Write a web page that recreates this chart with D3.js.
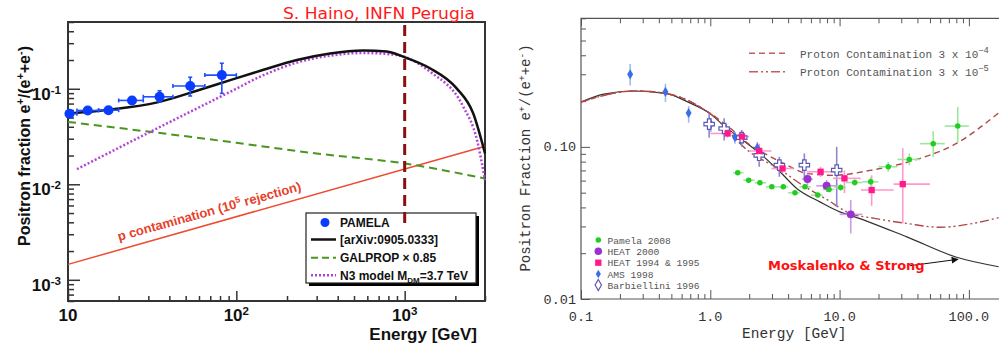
<!DOCTYPE html>
<html>
<head>
<meta charset="utf-8">
<script src="https://cdn.jsdelivr.net/npm/d3@7"></script>
<style>
  body { margin: 0; background: #fff; }
  svg { display: block; }
</style>
</head>
<body>
<svg width="999" height="350"></svg>
<script>
// ===== Left panel data =====
const pamelaE   = [10.2, 13.1, 17.4, 24.0, 35.0, 53.2, 82.0];
const pamelaF   = [0.0547, 0.0593, 0.0597, 0.0755, 0.0824, 0.107, 0.139];
const pamelaElo = [10, 11.3, 15.2, 20, 28, 42, 65];
const pamelaEhi = [11.3, 15.2, 20, 28, 42, 65, 100];
const pamelaFlo = [0.0525, 0.057, 0.057, 0.071, 0.073, 0.084, 0.0895];
const pamelaFhi = [0.058, 0.0625, 0.063, 0.080, 0.0953, 0.132, 0.185];

const modelE = [10, 17, 34, 60, 92, 145, 229, 360, 568, 782, 1004, 1413, 2035, 2555, 3000];
const modelF = [0.055, 0.06, 0.072, 0.097, 0.123, 0.158, 0.200, 0.234, 0.251, 0.245, 0.213, 0.164, 0.101, 0.055, 0.021];

const galpropE = [10, 30, 100, 300, 1000, 3000];
const galpropF = [0.045, 0.0356, 0.0272, 0.021, 0.0165, 0.0115];

const n3E = [11.3, 30.8, 92, 145, 229, 360, 568, 890, 1413, 2230, 2690, 3000];
const n3F = [0.0144, 0.0354, 0.093, 0.139, 0.188, 0.222, 0.237, 0.226, 0.151, 0.0647, 0.029, 0.011];

const pContE = [10, 3000];
const pContF = [0.00145, 0.025];

const cutoffE = 1000;

// ===== Right panel data =====
const msE = [0.1, 0.15, 0.26, 0.46, 0.68, 1.0, 1.26, 1.75, 2.42, 3.46, 4.66, 7.04, 10.05, 12, 33.1, 80.5, 170];
const msF = [0.197, 0.222, 0.233, 0.224, 0.196, 0.165, 0.139, 0.112, 0.0905, 0.0686, 0.0533, 0.0435, 0.0374, 0.0356, 0.0256, 0.0188, 0.0163];

const prot4E = [0.1, 0.26, 0.46, 1.0, 1.5, 2.03, 2.8, 3.67, 5.57, 8.9, 17.2, 41.9, 75.7, 171];
const prot4F = [0.197, 0.233, 0.224, 0.166, 0.128, 0.103, 0.088, 0.078, 0.067, 0.065, 0.070, 0.084, 0.1026, 0.168];

const prot5E = [0.1, 0.26, 0.46, 1.0, 2.0, 3.5, 5.0, 8.0, 12, 18.2, 33, 59.7, 108, 171];
const prot5F = [0.197, 0.233, 0.224, 0.165, 0.093, 0.0705, 0.057, 0.045, 0.0366, 0.034, 0.0314, 0.0296, 0.0314, 0.0343];

const pam08E   = [1.63, 1.98, 2.42, 2.99, 3.67, 4.52, 5.4, 6.78, 8.29, 10.2, 13.1, 17.4, 23.8, 34.6, 53, 82];
const pam08F   = [0.0675, 0.0604, 0.058, 0.0546, 0.0546, 0.0499, 0.0546, 0.0482, 0.0525, 0.0541, 0.0583, 0.0589, 0.074, 0.0827, 0.105, 0.137];
const pam08Elo = [1.5, 1.8, 2.2, 2.7, 3.3, 4.0, 4.9, 6.0, 7.4, 9.1, 11.2, 15, 20, 28, 42, 65];
const pam08Ehi = [1.8, 2.2, 2.7, 3.3, 4.0, 4.9, 6.0, 7.4, 9.1, 11.2, 15, 20, 28, 42, 65, 100];
const pam08Flo = [0.066, 0.059, 0.0567, 0.0533, 0.0532, 0.0485, 0.053, 0.0466, 0.0505, 0.0515, 0.0555, 0.0545, 0.0686, 0.0759, 0.086, 0.106];
const pam08Fhi = [0.069, 0.0618, 0.0593, 0.0559, 0.056, 0.0513, 0.0562, 0.0498, 0.0545, 0.0567, 0.0611, 0.0635, 0.0797, 0.0905, 0.127, 0.183];

const heat00E   = [5.65, 7.94, 12.2];
const heat00F   = [0.0614, 0.0555, 0.036];
const heat00Elo = [5.1, 6.6, 10.0];
const heat00Ehi = [6.2, 9.5, 15.0];
const heat00Flo = [0.056, 0.0506, 0.027];
const heat00Fhi = [0.067, 0.0605, 0.0447];

const heat95E   = [1.36, 1.76, 2.39, 3.62, 7.13, 10.9, 17.7, 30.8];
const heat95F   = [0.1225, 0.117, 0.094, 0.0721, 0.0686, 0.0621, 0.052, 0.0569];
const heat95Elo = [1.0, 1.5, 2.0, 2.97, 5.6, 8.9, 14.6, 26.2];
const heat95Ehi = [1.5, 2.0, 2.97, 4.4, 8.9, 14.6, 26.2, 50];
const heat95Flo = [0.115, 0.109, 0.0797, 0.067, 0.0635, 0.0497, 0.041, 0.0314];
const heat95Fhi = [0.130, 0.125, 0.105, 0.077, 0.074, 0.070, 0.065, 0.098];

const amsE   = [0.24, 0.45, 0.68, 1.01, 1.55, 2.31];
const amsF   = [0.30, 0.23, 0.167, 0.141, 0.116, 0.0985];
const amsFlo = [0.253, 0.197, 0.144, 0.125, 0.105, 0.088];
const amsFhi = [0.35, 0.26, 0.185, 0.155, 0.125, 0.108];

const barbE   = [0.98, 1.28, 1.75, 2.39, 3.42, 5.34, 9.5];
const barbF   = [0.141, 0.132, 0.115, 0.088, 0.0759, 0.0759, 0.0703];
const barbFlo = [0.115, 0.110, 0.100, 0.074, 0.0636, 0.0604, 0.0404];
const barbFhi = [0.166, 0.154, 0.129, 0.100, 0.086, 0.0906, 0.100];

// tick labels
const leftXMajor = [10, 100, 1000];
const leftXLabels = [["10"], ["10", "2"], ["10", "3"]];
const leftYMajor = [0.1, 0.01, 0.001];
const leftYLabels = [["10", "-1"], ["10", "-2"], ["10", "-3"]];
const rightXMajor = [0.1, 1, 10, 100];
const rightXLabels = ["0.1", "1.0", "10.0", "100.0"];
const rightYMajor = [0.01, 0.1];
const rightYLabels = ["0.01", "0.10"];

const rightLegend = ["Pamela 2008", "HEAT 2000", "HEAT 1994 & 1995", "AMS 1998", "Barbiellini 1996"];

const svg = d3.select("svg");

// helper: text with super/subscript parts [text, shift]
function rich(g, x, y, parts, attrs) {
  const t = g.append("text").attr("x", x).attr("y", y);
  Object.entries(attrs).forEach(([k, v]) => t.attr(k, v));
  parts.forEach(p => {
    const s = t.append("tspan").text(p[0]);
    if (p[1]) s.attr("baseline-shift", p[1]).attr("font-size", p[2] || "68%");
  });
  return t;
}

function errBars(g, sx, sy, E, F, Elo, Ehi, Flo, Fhi, color, w, cap) {
  E.forEach((e, i) => {
    if (Elo) {
      g.append("line").attr("x1", sx(Elo[i])).attr("x2", sx(Ehi[i]))
        .attr("y1", sy(F[i])).attr("y2", sy(F[i]))
        .attr("stroke", color).attr("stroke-width", w);
      if (cap) [Elo[i], Ehi[i]].forEach(v => g.append("line")
        .attr("x1", sx(v)).attr("x2", sx(v)).attr("y1", sy(F[i]) - cap).attr("y2", sy(F[i]) + cap)
        .attr("stroke", color).attr("stroke-width", w));
    }
    g.append("line").attr("x1", sx(e)).attr("x2", sx(e))
      .attr("y1", sy(Flo[i])).attr("y2", sy(Fhi[i]))
      .attr("stroke", color).attr("stroke-width", w);
    if (cap) [Flo[i], Fhi[i]].forEach(v => g.append("line")
      .attr("x1", sx(e) - cap).attr("x2", sx(e) + cap).attr("y1", sy(v)).attr("y2", sy(v))
      .attr("stroke", color).attr("stroke-width", w));
  });
}

function curve(sx, sy, E, F) {
  return d3.line().x((d, i) => sx(E[i])).y((d, i) => sy(F[i])).curve(d3.curveMonotoneX)(E);
}

function ticks(g, axisFn, scale, values, size, color, w) {
  g.call(axisFn(scale).tickValues(values).tickSize(size).tickSizeOuter(0).tickFormat(""));
  g.select(".domain").remove();
  g.selectAll("line").attr("stroke", color).attr("stroke-width", w);
}

// ================= LEFT PANEL =================
const xL = d3.scaleLog().domain([10, 3000]).range([68, 485]);
const yL = d3.scaleLog().domain([6e-4, 0.5]).range([301, 22]);
const L = svg.append("g");
const boldFont = "Liberation Sans, Arial, Helvetica, sans-serif";

// ticks
const minX = xL.ticks().filter(v => !leftXMajor.includes(v));
ticks(L.append("g").attr("transform", "translate(0,301)"), d3.axisBottom, xL, minX, -5, "#333", 1.5);
ticks(L.append("g").attr("transform", "translate(0,301)"), d3.axisBottom, xL, leftXMajor, -10, "#333", 1.5);
const minY = yL.ticks().filter(v => !leftYMajor.some(m => Math.abs(m - v) < 1e-9));
ticks(L.append("g").attr("transform", "translate(68,0)"), d3.axisLeft, yL, minY, -6, "#333", 1.5);
ticks(L.append("g").attr("transform", "translate(68,0)"), d3.axisLeft, yL, leftYMajor, -12, "#333", 1.5);

L.append("rect").attr("x", 68).attr("y", 22).attr("width", 417).attr("height", 279)
  .attr("fill", "none").attr("stroke", "#333").attr("stroke-width", 2);

// tick labels
leftXMajor.forEach((v, i) => {
  const lab = leftXLabels[i];
  rich(L, xL(v), 321, lab[1] ? [[lab[0]], [lab[1], "super"]] : [[lab[0]]],
    {"text-anchor": "middle", "font-family": boldFont, "font-weight": "bold", "font-size": 17, fill: "#111"});
});
leftYMajor.forEach((v, i) => {
  const lab = leftYLabels[i];
  rich(L, 61, yL(v) + 11, [[lab[0]], [lab[1], "super"]],
    {"text-anchor": "end", "font-family": boldFont, "font-weight": "bold", "font-size": 17, fill: "#111"});
});

// axis titles
rich(L, 0, 0, [["Positron fraction e"], ["+", "super"], ["/(e"], ["+", "super"], ["+e"], ["-", "super"], [")"]],
  {"text-anchor": "middle", "font-family": boldFont, "font-weight": "bold", "font-size": 16, fill: "#111",
   transform: "translate(30,146) rotate(-90)"});
L.append("text").attr("x", 477).attr("y", 340).attr("text-anchor", "end")
  .attr("font-family", boldFont).attr("font-weight", "bold").attr("font-size", 17).attr("fill", "#111")
  .text("Energy [GeV]");

// curves
L.append("path").attr("d", curve(xL, yL, pContE, pContF)).attr("fill", "none")
  .attr("stroke", "#f04a30").attr("stroke-width", 1.5);
L.append("path").attr("d", curve(xL, yL, galpropE, galpropF)).attr("fill", "none")
  .attr("stroke", "#4a9522").attr("stroke-width", 2).attr("stroke-dasharray", "8,5");
L.append("path").attr("d", curve(xL, yL, n3E, n3F)).attr("fill", "none")
  .attr("stroke", "#b444d8").attr("stroke-width", 2.5).attr("stroke-dasharray", "2,2");
L.append("path").attr("d", curve(xL, yL, modelE, modelF)).attr("fill", "none")
  .attr("stroke", "#111").attr("stroke-width", 2.5);

// PAMELA points
errBars(L, xL, yL, pamelaE, pamelaF, pamelaElo, pamelaEhi, pamelaFlo, pamelaFhi, "#1f50ff", 1.6, 2);
L.selectAll(".pam").data(pamelaE).enter().append("circle")
  .attr("cx", d => xL(d)).attr("cy", (d, i) => yL(pamelaF[i])).attr("r", 5).attr("fill", "#0a3cff");

// red label along p contamination line
rich(L, 0, 0, [["p contamination (10"], ["5", "super"], [" rejection)"]],
  {"font-family": boldFont, "font-weight": "bold", "font-size": 13, fill: "#e8402a",
   transform: "translate(119,241) rotate(-15.5)"});

// legend
L.append("rect").attr("x", 309).attr("y", 216).attr("width", 170).attr("height", 70).attr("fill", "#000");
L.append("rect").attr("x", 306).attr("y", 213).attr("width", 170).attr("height", 70)
  .attr("fill", "#fff").attr("stroke", "#222").attr("stroke-width", 1.2);
const legTxt = {"font-family": boldFont, "font-weight": "bold", "font-size": 12, fill: "#111"};
L.append("circle").attr("cx", 325).attr("cy", 222.5).attr("r", 4.5).attr("fill", "#0a3cff");
rich(L, 340, 227, [["PAMELA"]], legTxt);
L.append("line").attr("x1", 311).attr("x2", 336).attr("y1", 239.5).attr("y2", 239.5)
  .attr("stroke", "#111").attr("stroke-width", 2.5);
rich(L, 340, 244, [["[arXiv:0905.0333]"]], legTxt);
L.append("line").attr("x1", 311).attr("x2", 336).attr("y1", 257.7).attr("y2", 257.7)
  .attr("stroke", "#4a9522").attr("stroke-width", 2).attr("stroke-dasharray", "7,4");
rich(L, 340, 262, [["GALPROP \u00d7 0.85"]], legTxt);
L.append("line").attr("x1", 311).attr("x2", 336).attr("y1", 275.3).attr("y2", 275.3)
  .attr("stroke", "#b444d8").attr("stroke-width", 2.5).attr("stroke-dasharray", "2,2");
const n3Lab = L.append("text").attr("x", 340).attr("y", 280);
Object.entries(legTxt).forEach(([k, v]) => n3Lab.attr(k, v));
n3Lab.append("tspan").text("N3 model M");
n3Lab.append("tspan").attr("dy", 3).attr("font-size", 8).text("DM");
n3Lab.append("tspan").attr("dy", -3).text("=3.7 TeV");

// TeV cut marker
L.append("line").attr("x1", xL(cutoffE)).attr("x2", xL(cutoffE)).attr("y1", 25).attr("y2", 228)
  .attr("stroke", "#8b1010").attr("stroke-width", 3).attr("stroke-dasharray", "11,6");

L.append("text").attr("x", 283).attr("y", 19).attr("textLength", 192).attr("lengthAdjust", "spacingAndGlyphs")
  .attr("font-family", "DejaVu Sans, sans-serif").attr("font-size", 16).attr("fill", "#ff1a1a")
  .text("S. Haino, INFN Perugia");

// ================= RIGHT PANEL =================
const xR = d3.scaleLog().domain([0.1, 171]).range([581, 999]);
const yR = d3.scaleLog().domain([0.01, 0.7]).range([299, 18.3]);
const R = svg.append("g");
const mono = "Liberation Mono, Courier New, monospace";
const axC = "#555";

const rMinX = xR.ticks().filter(v => !rightXMajor.some(m => Math.abs(m - v) < 1e-9));
ticks(R.append("g").attr("transform", "translate(0,299)"), d3.axisBottom, xR, rMinX, -5, axC, 1);
ticks(R.append("g").attr("transform", "translate(0,299)"), d3.axisBottom, xR, rightXMajor, -9, axC, 1);
ticks(R.append("g").attr("transform", "translate(0,18.3)"), d3.axisTop, xR, rMinX, -5, axC, 1);
ticks(R.append("g").attr("transform", "translate(0,18.3)"), d3.axisTop, xR, rightXMajor, -8, axC, 1);
const rMinY = yR.ticks().filter(v => !rightYMajor.some(m => Math.abs(m - v) < 1e-9));
ticks(R.append("g").attr("transform", "translate(581,0)"), d3.axisLeft, yR, rMinY, -5, axC, 1);
ticks(R.append("g").attr("transform", "translate(581,0)"), d3.axisLeft, yR, rightYMajor, -9, axC, 1);
R.append("path").attr("d", "M1010,18.3H581V299H1010").attr("fill", "none").attr("stroke", axC).attr("stroke-width", 1.2);

rightXMajor.forEach((v, i) => R.append("text").attr("x", xR(v)).attr("y", 321).attr("text-anchor", "middle")
  .attr("font-family", mono).attr("font-size", 13.5).attr("fill", "#333").text(rightXLabels[i]));
rightYMajor.forEach((v, i) => R.append("text").attr("x", 576).attr("y", yR(v) + 4.5).attr("text-anchor", "end")
  .attr("font-family", mono).attr("font-size", 13.5).attr("fill", "#333").text(rightYLabels[i]));

R.append("text").attr("x", 742).attr("y", 338).attr("font-family", mono).attr("font-size", 14.5)
  .attr("fill", "#333").text("Energy [GeV]");
rich(R, 0, 0, [["Positron Fraction e"], ["+", "super"], ["/(e"], ["+", "super"], ["+e"], ["-", "super"], [")"]],
  {"text-anchor": "middle", "font-family": mono, "font-size": 14, fill: "#333",
   transform: "translate(530,158) rotate(-90)"});

// model curves
R.append("path").attr("d", curve(xR, yR, msE, msF)).attr("fill", "none").attr("stroke", "#333").attr("stroke-width", 1.2);
R.append("path").attr("d", curve(xR, yR, prot5E, prot5F)).attr("fill", "none").attr("stroke", "#b04848")
  .attr("stroke-width", 1.4).attr("stroke-dasharray", "9,3,2,3,2,3");
R.append("path").attr("d", curve(xR, yR, prot4E, prot4F)).attr("fill", "none").attr("stroke", "#b04848")
  .attr("stroke-width", 1.4).attr("stroke-dasharray", "6,4");

// data sets
const amsC = "#3a6ee8", barbC = "#5a5ab4", heat95C = "#ff1a8c", heat00C = "#9933cc", pamC = "#22cc22";
errBars(R, xR, yR, amsE, amsF, null, null, amsFlo, amsFhi, "#9cbcf2", 1.6, 0);
errBars(R, xR, yR, barbE, barbF, null, null, barbFlo, barbFhi, "#8a8acc", 1.6, 0);
errBars(R, xR, yR, heat95E, heat95F, heat95Elo, heat95Ehi, heat95Flo, heat95Fhi, "#ff99cc", 1.6, 0);
errBars(R, xR, yR, heat00E, heat00F, heat00Elo, heat00Ehi, heat00Flo, heat00Fhi, "#cc99ee", 1.6, 0);
errBars(R, xR, yR, pam08E, pam08F, pam08Elo, pam08Ehi, pam08Flo, pam08Fhi, "#99e899", 1.6, 0);

const sym = (type, size) => d3.symbol().type(type).size(size)();
function markers(E, F, type, size, fill, stroke) {
  R.append("g").selectAll("path").data(E).enter().append("path")
    .attr("transform", (d, i) => `translate(${xR(d)},${yR(F[i])})`)
    .attr("d", sym(type, size)).attr("fill", fill)
    .attr("stroke", stroke || "none").attr("stroke-width", 1.2);
}
markers(amsE, amsF, d3.symbolDiamond, 30, amsC);
markers(barbE, barbF, d3.symbolCross, 60, "#fff", barbC);
markers(heat95E, heat95F, d3.symbolSquare, 40, heat95C);
markers(heat00E, heat00F, d3.symbolCircle, 50, heat00C);
markers(pam08E, pam08F, d3.symbolCircle, 24, pamC);

// legend: proton contamination
R.append("line").attr("x1", 749).attr("x2", 788).attr("y1", 53.3).attr("y2", 53.3)
  .attr("stroke", "#c06060").attr("stroke-width", 1.4).attr("stroke-dasharray", "6,4");
R.append("line").attr("x1", 749).attr("x2", 788).attr("y1", 71.7).attr("y2", 71.7)
  .attr("stroke", "#c06060").attr("stroke-width", 1.4).attr("stroke-dasharray", "9,3,2,3,2,3");
const legR = {"font-family": mono, "font-size": 11, fill: "#555"};
rich(R, 800, 57.5, [["Proton Contamination 3 x 10"], ["\u22124", "super", "80%"]], legR);
rich(R, 800, 76, [["Proton Contamination 3 x 10"], ["\u22125", "super", "80%"]], legR);

// legend: data sets
const legY = [240, 251.3, 262.7, 274, 285];
const legSym = [
  [d3.symbolCircle, 24, pamC, null],
  [d3.symbolCircle, 45, heat00C, null],
  [d3.symbolSquare, 40, heat95C, null],
  [d3.symbolDiamond, 22, amsC, null],
  [d3.symbolDiamond, 35, "#fff", barbC]
];
rightLegend.forEach((name, i) => {
  const s = legSym[i];
  R.append("path").attr("transform", `translate(598.3,${legY[i]})`).attr("d", sym(s[0], s[1]))
    .attr("fill", s[2]).attr("stroke", s[3] || "none").attr("stroke-width", 1.2);
  R.append("text").attr("x", 607.5).attr("y", legY[i] + 3.5).attr("font-family", mono)
    .attr("font-size", 9.6).attr("fill", "#555").text(name);
});

// Moskalenko & Strong annotation
svg.append("defs").append("marker").attr("id", "arr").attr("viewBox", "0 0 10 10")
  .attr("refX", 9).attr("refY", 5).attr("markerWidth", 9).attr("markerHeight", 7).attr("orient", "auto")
  .attr("markerUnits", "userSpaceOnUse")
  .append("path").attr("d", "M0,0L10,5L0,10z").attr("fill", "#111");
R.append("line").attr("x1", 910).attr("y1", 265.7).attr("x2", 958).attr("y2", 259.3)
  .attr("stroke", "#111").attr("stroke-width", 1).attr("marker-end", "url(#arr)");
R.append("text").attr("x", 768).attr("y", 270).attr("font-family", "DejaVu Sans, sans-serif")
  .attr("font-weight", "bold").attr("font-size", 13).attr("fill", "#ff1010").text("Moskalenko & Strong");
</script>
</body>
</html>
